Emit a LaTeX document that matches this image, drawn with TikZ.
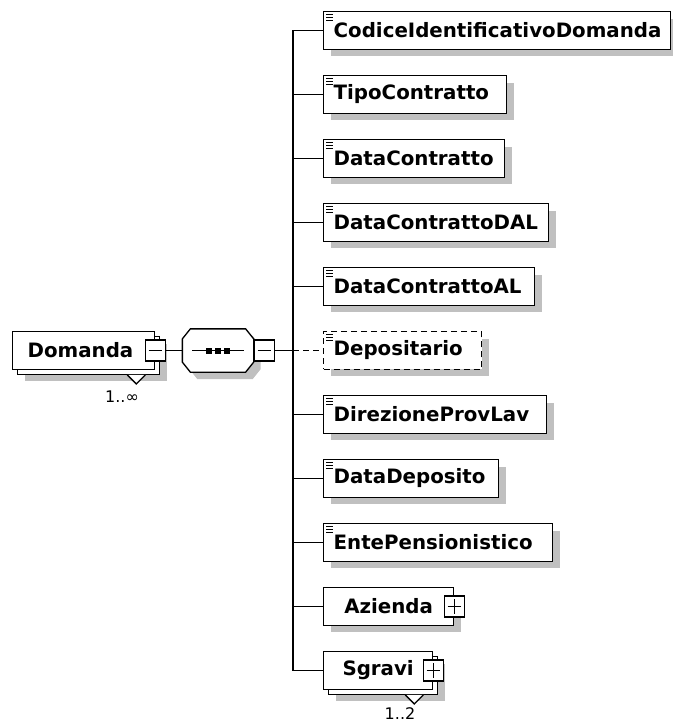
\documentclass[tikz,border=0pt]{standalone}
\usepackage{fontspec}
\setmainfont{DejaVu Sans}
\usetikzlibrary{shadows}
\definecolor{shade}{RGB}{192,192,192}
\begin{document}
\begin{tikzpicture}[x=1pt,y=-1pt,line width=1.3pt]
	\tikzset{box/.style = {draw,fill=white,minimum height=37.5pt,inner xsep=10pt,inner ysep=0pt,font=\fontsize{19.8}{22}\selectfont\bfseries}}
	\tikzset{shaded/.style = {drop shadow={shadow xshift=7pt,shadow yshift=-7pt,opacity=1,fill=shade}}}
	\tikzset{elem/.style = {box,shaded,anchor=west,align=left}}
	\tikzset{pm/.style = {draw,fill=white,minimum width=20pt,minimum height=21pt,inner sep=0pt}}
	\tikzset{card/.style = {font=\fontsize{16}{18}\selectfont}}
	\tikzset{dashline/.style = {dash pattern=on 6pt off 4pt}}
	\tikzset{octshade/.style = {fill=shade}, octface/.style = {draw,fill=white}}
	\useasboundingbox (0,0) rectangle (672,727);

	\node[box,shaded,anchor=west,minimum width=142pt] (domb) at (17,355.5) {};
	\node[box,anchor=west,align=left,text width=112pt,inner xsep=15pt] (dom) at (12,350.5) {Domanda};
	\draw[fill=white] ([xshift=-33pt]domb.south east) -- ++(9,9) -- ++(9,-9);
	\node[pm] (domm) at (dom.east) {};
	\draw ([xshift=4pt]domm.west) -- ([xshift=-4pt]domm.east);
	\node[card] (domc) at (122,397) {1..∞};

	\node[minimum width=70pt,minimum height=42pt,inner sep=0pt] (seq) at (218,350.5) {};
	\foreach \sh/\st in {7pt/octshade, 0pt/octface}
		\path[\st,transform canvas={xshift=\sh,yshift=-\sh}] ([xshift=8pt]seq.north west) -- ([xshift=-8pt]seq.north east) -- ([yshift=-10pt]seq.north east) -- ([yshift=10pt]seq.south east) -- ([xshift=-8pt]seq.south east) -- ([xshift=8pt]seq.south west) -- ([yshift=10pt]seq.south west) -- ([yshift=-10pt]seq.north west) -- cycle;
	\draw ([xshift=10pt]seq.west) -- ([xshift=-10pt]seq.east);
	\foreach \dx in {-9,0,9}
		\fill ([xshift=\dx pt]seq.center) +(-3,-3) rectangle +(3,3);
	\node[pm,anchor=west] (seqm) at (seq.east) {};
	\draw ([xshift=4pt]seqm.west) -- ([xshift=-4pt]seqm.east);
	\draw (domm) -- (seq);

	\coordinate (tr) at (293,350.5);
	\draw (seqm) -- (tr);

	\foreach \nm/\txt/\tw/\ln [count=\i from 0] in {cod/CodiceIdentificativoDomanda/327/solid, tipo/TipoContratto/163/solid, dcon/DataContratto/161/solid, dal/DataContrattoDAL/205/solid, al/DataContrattoAL/191/solid, dep/Depositario/138/dashline, dpl/DirezioneProvLav/203/solid, ddep/DataDeposito/155/solid, ente/EntePensionistico/209/solid} {
		\node[elem,\ln,text width=\tw pt] (\nm) at (323,30.5+64*\i) {\txt};
		\foreach \dy in {3,6,9}
			\draw[line width=0.9pt,solid] ([xshift=3pt,yshift=-\dy pt]\nm.north west) -- ++(7,0);
		\draw[\ln] (tr) |- (\nm.west);
	}

	\node[elem,align=center,text width=110pt] (az) at (323,606.5) {Azienda};
	\node[pm] (azp) at (az.east) {};
	\draw ([xshift=4pt]azp.west) -- ([xshift=-4pt]azp.east) ([yshift=4pt]azp.south) -- ([yshift=-4pt]azp.north);
	\draw (tr) |- (az.west);

	\node[box,shaded,anchor=west,minimum width=109pt] (sgb) at (328,675.5) {};
	\node[box,anchor=west,align=center,text width=89pt] (sg) at (323,670.5) {Sgravi};
	\draw[fill=white] ([xshift=-33pt]sgb.south east) -- ++(9,9) -- ++(9,-9);
	\node[pm] (sgp) at (sg.east) {};
	\draw ([xshift=4pt]sgp.west) -- ([xshift=-4pt]sgp.east) ([yshift=4pt]sgp.south) -- ([yshift=-4pt]sgp.north);
	\node[card] (sgc) at (400,714) {1..2};
	\draw (tr) |- (sg.west);
\end{tikzpicture}
\end{document}
